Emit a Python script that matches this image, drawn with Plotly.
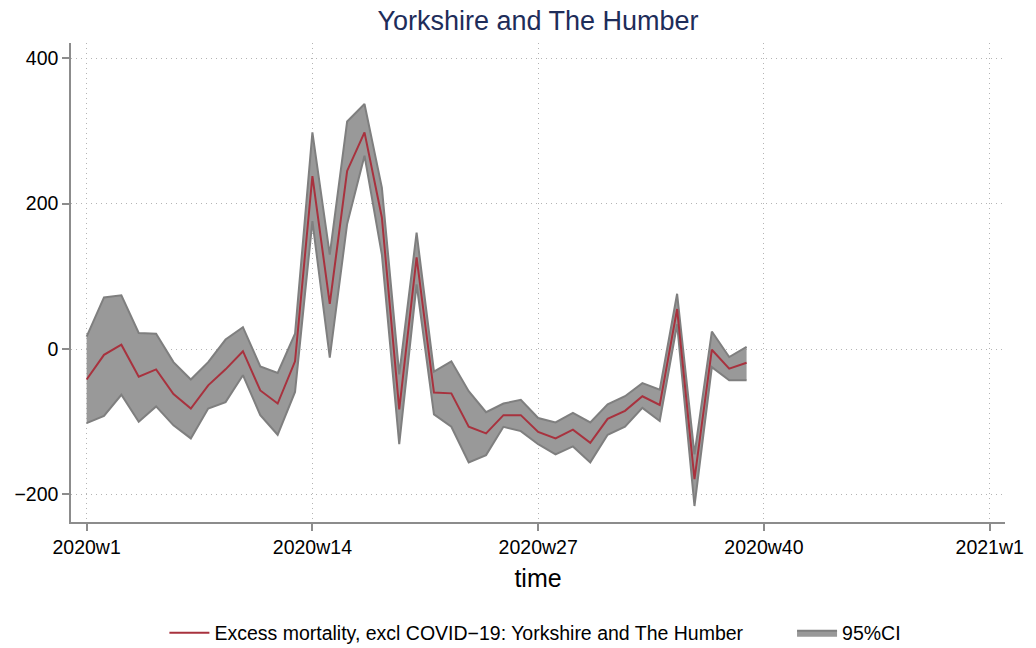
import plotly.graph_objects as go

weeks = list(range(1, 40))
excess = [-42, -8, 6, -38, -28, -62, -82, -50, -28, -3, -57, -75, -17,
          238, 62, 245, 298, 181, -83, 126, -60, -61, -107, -116, -91,
          -91, -114, -123, -111, -129, -96, -85, -65, -77, 55, -179, -1,
          -27, -19]
upper = [17, 71, 74, 22, 21, -18, -42, -18, 13, 30, -24, -33, 21,
         298, 130, 313, 337, 222, -35, 160, -31, -17, -58, -87, -75,
         -70, -95, -101, -88, -101, -76, -65, -47, -56, 76, -145, 24,
         -11, 3]
lower = [-102, -92, -63, -100, -79, -105, -123, -82, -73, -36, -91, -118, -59,
         176, -12, 172, 266, 130, -131, 89, -90, -107, -156, -146, -107,
         -113, -131, -145, -134, -156, -118, -107, -81, -99, 34, -216, -25,
         -43, -43]

tick_weeks = [1, 14, 27, 40, 53]
tick_labels = ["2020w1", "2020w14", "2020w27", "2020w40", "2021w1"]
y_ticks = [-200, 0, 200, 400]

title_text = "Yorkshire and The Humber"
line_name = "Excess mortality, excl COVID\u221219: Yorkshire and The Humber"
ci_name = "95%CI"

FONT = "Liberation Sans, Arial, sans-serif"
AXIS_GRAY = "#8c8c8c"
GRID = dict(showgrid=True, gridcolor="#b4b4b4", griddash="1px,4px", gridwidth=1)

fig = go.Figure()
fig.add_trace(go.Scatter(
    x=weeks, y=upper, mode="lines",
    line=dict(color="#7f7f7f", width=2), showlegend=False, hoverinfo="skip"))
fig.add_trace(go.Scatter(
    x=weeks, y=lower, mode="lines", fill="tonexty",
    fillcolor="#999999", line=dict(color="#7f7f7f", width=2),
    name=ci_name, legend="legend2"))
fig.add_trace(go.Scatter(
    x=weeks, y=excess, mode="lines",
    line=dict(color="#a8323e", width=2), name=line_name, legend="legend"))

leg_common = dict(orientation="h", xanchor="left", xref="paper",
                  y=0.023, yref="container", yanchor="middle",
                  font=dict(size=19.5), itemwidth=40,
                  bgcolor="rgba(0,0,0,0)")

fig.update_layout(
    width=1036, height=648,
    margin=dict(l=71, r=27, t=43, b=126),
    paper_bgcolor="white", plot_bgcolor="white",
    font=dict(family=FONT, size=19.5, color="black"),
    title=dict(text=title_text, x=0.5, xref="paper", xanchor="center",
               y=0.968, yref="container", yanchor="middle",
               font=dict(size=27, color="#1e2d5a")),
    showlegend=True,
    legend=dict(x=0.1, **leg_common),
    legend2=dict(x=0.772, **leg_common),
)
fig.update_xaxes(
    range=[0.1, 53.88], tickvals=tick_weeks, ticktext=tick_labels,
    showline=True, linecolor=AXIS_GRAY, linewidth=1.5,
    ticks="outside", ticklen=7, tickcolor=AXIS_GRAY, tickwidth=1.5,
    zeroline=False,
    title=dict(text="time", font=dict(size=25), standoff=12),
    tickfont=dict(size=19.5), **GRID,
)
fig.update_yaxes(
    range=[-238, 421], tickvals=y_ticks,
    showline=True, linecolor=AXIS_GRAY, linewidth=1.5,
    ticks="outside", ticklen=7, tickcolor=AXIS_GRAY, tickwidth=1.5,
    zeroline=False, tickfont=dict(size=19.5), **GRID,
)

fig.write_html(
    "out.html",
    config={"displayModeBar": False},
    post_script="document.body.style.margin='0';document.body.style.overflow='hidden';",
)
